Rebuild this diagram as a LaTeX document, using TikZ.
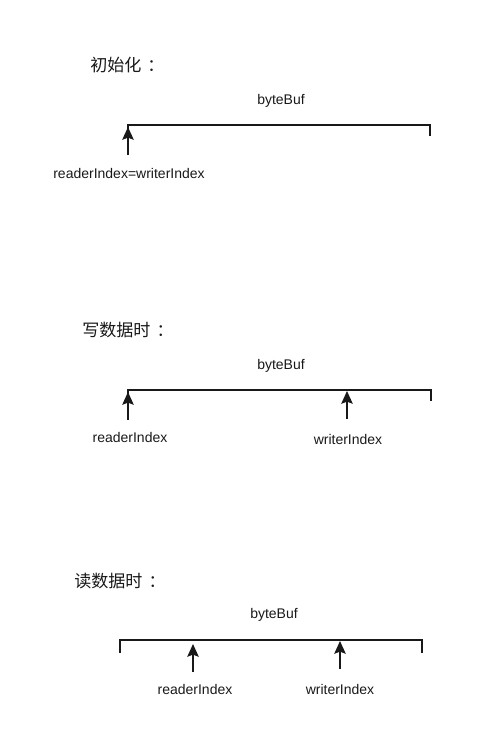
\documentclass[tikz,border=0pt]{standalone}
\usepackage{fontspec}
\setmainfont{Liberation Sans}
\newfontfamily\cjkfont{Noto Sans CJK SC}
\usetikzlibrary{arrows.meta}
\newcommand{\cjkcolon}{\kern4.5pt：}
\begin{document}
\begin{tikzpicture}[x=0.75pt,y=-0.75pt,
  lbl/.style={inner sep=0pt,font=\fontsize{10.5pt}{12pt}\selectfont,text=black!90},
  ttl/.style={inner sep=0pt,anchor=west,font=\cjkfont\fontsize{12.8pt}{14pt}\selectfont,text=black!90},
  brk/.style={line width=1.5pt,line cap=rect,draw=black!90},
  ptr/.style={line width=1.5pt,draw=black!90,-{Stealth[length=9.5pt,width=8.5pt,inset=1.5pt]}}]
\useasboundingbox (0,0) rectangle (482,754);
% ---------- section 1 ----------
\node[ttl] (t1) at (90,65) {初始化\cjkcolon};
\node[lbl] (b1) at (281,101) {byteBuf};
\coordinate (b1l) at (127.5,124.5);
\coordinate (b1r) at (430,124.5);
\draw[brk] ([yshift=-8]b1l) -- (b1l) -- (b1r) -- ([yshift=-8]b1r);
\node[lbl] (r1) at (129,173) {readerIndex=writerIndex};
\coordinate (a1s) at (128,155);
\coordinate (a1e) at (128,127);
\draw[ptr] (a1s) -- (a1e);
% ---------- section 2 ----------
\node[ttl] (t2) at (82,330) {写数据时\cjkcolon};
\node[lbl] (b2) at (281,366) {byteBuf};
\coordinate (b2l) at (127.5,389.5);
\coordinate (b2r) at (430.5,389.5);
\draw[brk] ([yshift=-8]b2l) -- (b2l) -- (b2r) -- ([yshift=-8]b2r);
\node[lbl] (r2) at (130,437) {readerIndex};
\node[lbl] (w2) at (348,439) {writerIndex};
\coordinate (a2s) at (128,420);
\coordinate (a2e) at (128,392);
\coordinate (a3s) at (347,419);
\coordinate (a3e) at (347,391);
\draw[ptr] (a2s) -- (a2e);
\draw[ptr] (a3s) -- (a3e);
% ---------- section 3 ----------
\node[ttl] (t3) at (74,581) {读数据时\cjkcolon};
\node[lbl] (b3) at (274,615) {byteBuf};
\coordinate (b3l) at (119.5,640);
\coordinate (b3r) at (422,640);
\draw[brk] ([yshift=-9]b3l) -- (b3l) -- (b3r) -- ([yshift=-9]b3r);
\node[lbl] (r3) at (195,689) {readerIndex};
\node[lbl] (w3) at (340,689) {writerIndex};
\coordinate (a4s) at (193,672);
\coordinate (a4e) at (193,644);
\coordinate (a5s) at (340,669);
\coordinate (a5e) at (340,641);
\draw[ptr] (a4s) -- (a4e);
\draw[ptr] (a5s) -- (a5e);
\end{tikzpicture}
\end{document}
